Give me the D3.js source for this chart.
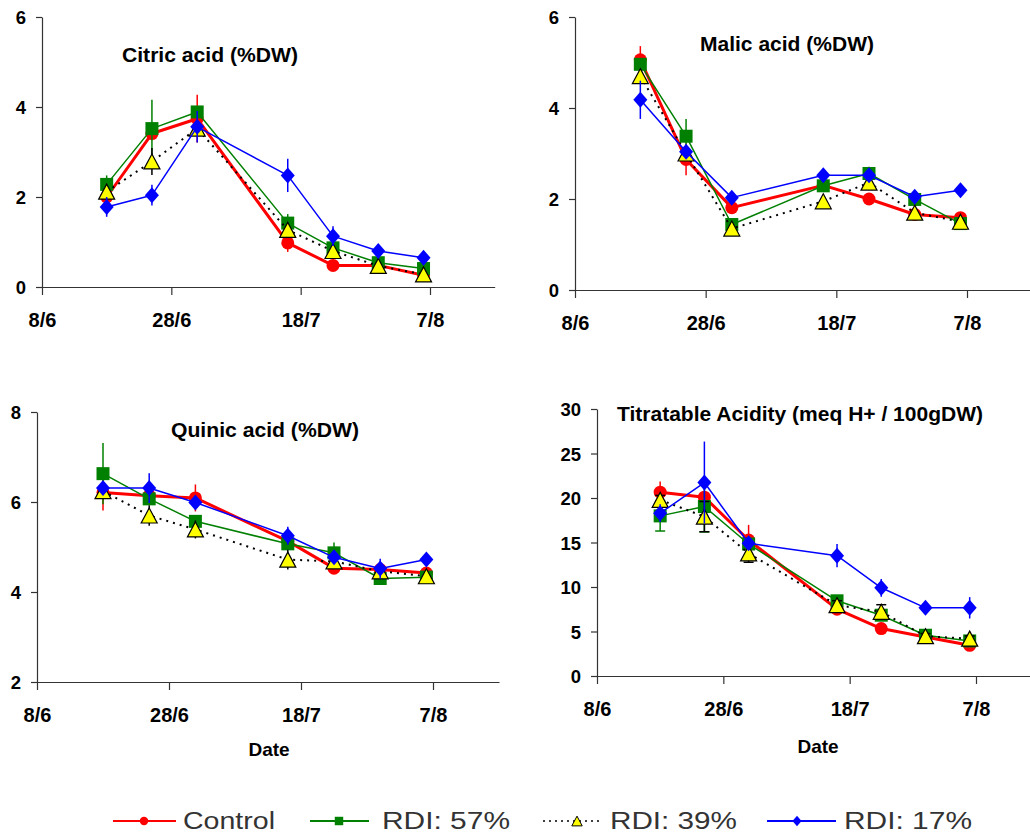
<!DOCTYPE html>
<html>
<head>
<meta charset="utf-8">
<script src="https://cdn.jsdelivr.net/npm/d3@7"></script>
<style>
  body { margin: 0; background: #fff; }
  svg { display: block; }
  text { font-family: "Liberation Sans", Arial, Helvetica, sans-serif; }
</style>
</head>
<body>
<svg id="chart" width="1030" height="834"></svg>
<script>
// Sampling dates (day/month) and axis labels
const sampleDates = ["18/6", "25/6", "2/7", "16/7", "23/7", "30/7", "6/8"];
const xTickLabels = ["8/6", "28/6", "18/7", "7/8"];
const axisStartDate = "8/6";
const axisEndDate = "17/8";
const seriesNames = ["Control", "RDI: 57%", "RDI: 39%", "RDI: 17%"];

// Citric acid (%DW): rows = Control, RDI 57%, RDI 39%, RDI 17%
const citricTicks = [0, 2, 4, 6];
const citricValues = [
  [2.00, 3.41, 3.74, 0.98, 0.48, 0.48, 0.26],
  [2.28, 3.52, 3.89, 1.42, 0.87, 0.54, 0.41],
  [2.12, 2.79, 3.52, 1.27, 0.80, 0.47, 0.28],
  [1.78, 2.04, 3.56, 2.48, 1.13, 0.80, 0.65]
];
const citricErrors = [
  [0.10, 0.15, 0.53, 0.20, 0.05, 0.05, 0.05],
  [0.20, 0.64, 0.10, 0.20, 0.10, 0.05, 0.05],
  [0.10, 0.30, 0.10, 0.10, 0.10, 0.05, 0.05],
  [0.22, 0.23, 0.35, 0.37, 0.22, 0.05, 0.15]
];

// Malic acid (%DW)
const malicTicks = [0, 2, 4, 6];
const malicValues = [
  [5.06, 2.87, 1.81, 2.30, 2.00, 1.66, 1.59],
  [4.96, 3.38, 1.44, 2.29, 2.56, 1.99, 1.46],
  [4.70, 3.00, 1.35, 1.95, 2.36, 1.70, 1.50],
  [4.18, 3.04, 2.03, 2.52, 2.52, 2.05, 2.19]
];
const malicErrors = [
  [0.30, 0.35, 0.10, 0.10, 0.05, 0.05, 0.05],
  [0.10, 0.38, 0.10, 0.10, 0.15, 0.10, 0.05],
  [0.15, 0.10, 0.10, 0.12, 0.10, 0.05, 0.05],
  [0.42, 0.10, 0.10, 0.05, 0.05, 0.12, 0.05]
];

// Quinic acid (%DW)
const quinicTicks = [2, 4, 6, 8];
const quinicValues = [
  [6.21, 6.14, 6.09, 5.13, 4.53, 4.50, 4.42],
  [6.63, 6.07, 5.57, 5.07, 4.87, 4.30, 4.33],
  [6.24, 5.70, 5.39, 4.72, 4.68, 4.46, 4.35],
  [6.31, 6.31, 5.99, 5.25, 4.77, 4.52, 4.72]
];
const quinicErrors = [
  [0.40, 0.10, 0.30, 0.10, 0.10, 0.10, 0.05],
  [0.68, 0.10, 0.10, 0.10, 0.23, 0.05, 0.05],
  [0.10, 0.23, 0.20, 0.22, 0.10, 0.10, 0.15],
  [0.10, 0.33, 0.10, 0.20, 0.10, 0.22, 0.05]
];

// Titratable acidity (meq H+ / 100 g DW)
const acidityTicks = [0, 5, 10, 15, 20, 25, 30];
const acidityValues = [
  [20.65, 20.09, 15.28, 7.51, 5.33, 4.39, 3.45],
  [17.99, 19.04, 14.83, 8.45, 6.83, 4.58, 3.94],
  [19.79, 17.91, 13.78, 7.96, 7.21, 4.47, 4.20],
  [18.29, 21.74, 14.91, 13.52, 9.91, 7.66, 7.66]
];
const acidityErrors = [
  [1.20, 0.50, 1.70, 0.50, 0.30, 0.20, 0.20],
  [1.70, 2.85, 0.50, 0.50, 0.50, 0.30, 0.30],
  [0.50, 1.70, 1.00, 0.50, 0.80, 0.30, 0.30],
  [1.00, 4.60, 0.50, 1.30, 1.00, 0.30, 1.20]
];

// Series appearance
const seriesStyles = [
  { stroke: "#ff0000", width: 3,   dash: null,  marker: "circle",   fill: "#ff0000", edge: "none",   err: "#ff0000", err2: "#ff0000" },
  { stroke: "#008000", width: 1.5, dash: null,  marker: "square",   fill: "#008000", edge: "none",   err: "#008000" },
  { stroke: "#000000", width: 2,   dash: "2,5", marker: "triangle", fill: "#ffff00", edge: "#000000", err: "#000000" },
  { stroke: "#0000ff", width: 1.5, dash: null,  marker: "diamond",  fill: "#0000ff", edge: "none",   err: "#0000ff" }
];

const parseDay = d3.utcParse("%d/%m");
const fmtDay = d3.utcFormat("%-d/%-m");

function markerPath(type, s) {
  if (type === "circle") {
    const r = 6.5 * s;
    return `M${-r},0A${r},${r} 0 1,0 ${r},0A${r},${r} 0 1,0 ${-r},0Z`;
  }
  if (type === "square") {
    const h = 6.5 * s;
    return `M${-h},${-h}H${h}V${h}H${-h}Z`;
  }
  if (type === "triangle") {
    const w = 8 * s, h = 7.5 * s;
    return `M0,${-h}L${w},${h}L${-w},${h}Z`;
  }
  const w = 7 * s, h = 8 * s;
  return `M0,${-h}L${w},0L0,${h}L${-w},0Z`;
}

const svg = d3.select("#chart");

function drawPanel(cfg) {
  const g = svg.append("g");
  const start = parseDay(axisStartDate);
  const end = parseDay(axisEndDate);
  const ref = parseDay(xTickLabels[xTickLabels.length - 1]);
  const pxPerDay = (cfg.xRef - cfg.x0) / ((ref - start) / 864e5);
  const x = d3.scaleUtc()
    .domain([start, end])
    .range([cfg.x0, cfg.x0 + pxPerDay * (end - start) / 864e5]);
  const y = d3.scaleLinear()
    .domain(d3.extent(cfg.ticks))
    .range([cfg.yBottom, cfg.yTop]);

  // x axis
  const xAxis = g.append("g")
    .attr("transform", `translate(0,${cfg.yBottom})`)
    .call(d3.axisBottom(x)
      .tickValues(xTickLabels.map(parseDay))
      .tickFormat(fmtDay)
      .tickSize(8)
      .tickSizeOuter(0));
  xAxis.select(".domain").attr("stroke", "#333").attr("stroke-width", 1.2);
  xAxis.selectAll(".tick line").attr("stroke", "#333").attr("stroke-width", 1.2);
  xAxis.selectAll(".tick text")
    .attr("y", 40).attr("dy", null)
    .attr("fill", "#000")
    .style("font-size", "20px").style("font-weight", "bold");

  // y axis
  const yAxis = g.append("g")
    .attr("transform", `translate(${cfg.x0},0)`)
    .call(d3.axisLeft(y)
      .tickValues(cfg.ticks)
      .tickFormat(d3.format("d"))
      .tickSize(6)
      .tickPadding(10)
      .tickSizeOuter(0));
  yAxis.select(".domain").attr("stroke", "#333").attr("stroke-width", 1.2);
  yAxis.selectAll(".tick line").attr("stroke", "#333").attr("stroke-width", 1.2);
  yAxis.selectAll(".tick text")
    .attr("fill", "#000")
    .attr("dy", "0.36em")
    .style("font-size", "18.5px").style("font-weight", "bold");

  // title
  g.append("text")
    .attr("x", cfg.titleX).attr("y", cfg.titleY)
    .attr("text-anchor", "middle")
    .attr("textLength", cfg.titleW).attr("lengthAdjust", "spacingAndGlyphs")
    .style("font-size", "20px").style("font-weight", "bold")
    .text(cfg.title);

  if (cfg.dateX) {
    g.append("text")
      .attr("x", cfg.dateX).attr("y", cfg.dateY)
      .attr("text-anchor", "middle")
      .style("font-size", "19px").style("font-weight", "bold")
      .text("Date");
  }

  const dates = sampleDates.map(parseDay);
  const line = d3.line().x((d, i) => x(dates[i])).y(d => y(d));

  cfg.values.forEach((vals, si) => {
    const st = seriesStyles[si];
    const errs = cfg.errors[si];
    const sg = g.append("g");

    // error bars
    sg.selectAll("line.err").data(vals).join("line")
      .attr("class", "err")
      .attr("x1", (d, i) => x(dates[i])).attr("x2", (d, i) => x(dates[i]))
      .attr("y1", (d, i) => y(d - errs[i])).attr("y2", (d, i) => y(d + errs[i]))
      .attr("stroke", st.err).attr("stroke-width", 1.5);
    if (cfg.caps && cfg.caps[si]) {
      [-1, 1].forEach(sgn => {
        sg.selectAll("line.cap" + (sgn > 0 ? "u" : "d")).data(vals).join("line")
          .attr("class", "cap" + (sgn > 0 ? "u" : "d"))
          .attr("x1", (d, i) => x(dates[i]) - 5).attr("x2", (d, i) => x(dates[i]) + 5)
          .attr("y1", (d, i) => y(d + sgn * errs[i])).attr("y2", (d, i) => y(d + sgn * errs[i]))
          .attr("stroke", st.err).attr("stroke-width", 1.5);
      });
    }

    // connecting line
    sg.append("path")
      .datum(vals)
      .attr("d", line)
      .attr("fill", "none")
      .attr("stroke", st.stroke)
      .attr("stroke-width", st.width)
      .attr("stroke-dasharray", st.dash)
      .attr("stroke-linejoin", "round");

    // markers
    sg.selectAll("path.mk").data(vals).join("path")
      .attr("class", "mk")
      .attr("transform", (d, i) => `translate(${x(dates[i])},${y(d)})`)
      .attr("d", markerPath(st.marker, 1))
      .attr("fill", st.fill)
      .attr("stroke", st.edge)
      .attr("stroke-width", 1.2);
  });
}

drawPanel({ x0: 42, xRef: 430, yTop: 17, yBottom: 287, ticks: citricTicks,
  values: citricValues, errors: citricErrors,
  title: "Citric acid (%DW)", titleX: 210, titleY: 62, titleW: 176 });

drawPanel({ x0: 575, xRef: 967, yTop: 17, yBottom: 290, ticks: malicTicks,
  values: malicValues, errors: malicErrors,
  title: "Malic acid (%DW)", titleX: 787, titleY: 51, titleW: 174 });

drawPanel({ x0: 37, xRef: 433, yTop: 412, yBottom: 682, ticks: quinicTicks,
  values: quinicValues, errors: quinicErrors,
  title: "Quinic acid (%DW)", titleX: 265, titleY: 437, titleW: 188,
  dateX: 269, dateY: 756 });

drawPanel({ x0: 597, xRef: 976, yTop: 409, yBottom: 676, ticks: acidityTicks,
  values: acidityValues, errors: acidityErrors, caps: [false, true, true, false],
  title: "Titratable Acidity (meq H+ / 100gDW)", titleX: 800, titleY: 421, titleW: 366,
  dateX: 818, dateY: 753 });

// legend
const legendItems = [
  { x1: 113, x2: 176, mx: 144, tx: 183, tw: 92 },
  { x1: 310, x2: 369, mx: 339, tx: 382, tw: 128 },
  { x1: 543, x2: 600, mx: 577, tx: 610, tw: 127 },
  { x1: 767, x2: 836, mx: 797, tx: 844, tw: 128 }
];
const legendY = 821;
const lg = svg.append("g");
seriesNames.forEach((name, i) => {
  const it = legendItems[i];
  const st = seriesStyles[i];
  lg.append("line")
    .attr("x1", it.x1).attr("x2", it.x2).attr("y1", legendY).attr("y2", legendY)
    .attr("stroke", st.stroke)
    .attr("stroke-width", st.dash ? 1.5 : 2)
    .attr("stroke-dasharray", st.dash ? "2,4" : null);
  lg.append("path")
    .attr("transform", `translate(${it.mx},${legendY})`)
    .attr("d", markerPath(st.marker, 0.65))
    .attr("fill", st.fill)
    .attr("stroke", st.edge)
    .attr("stroke-width", 1);
  lg.append("text")
    .attr("x", it.tx).attr("y", legendY + 8)
    .attr("textLength", it.tw).attr("lengthAdjust", "spacingAndGlyphs")
    .attr("fill", "#333")
    .style("font-size", "23px")
    .text(name);
});
</script>
</body>
</html>
